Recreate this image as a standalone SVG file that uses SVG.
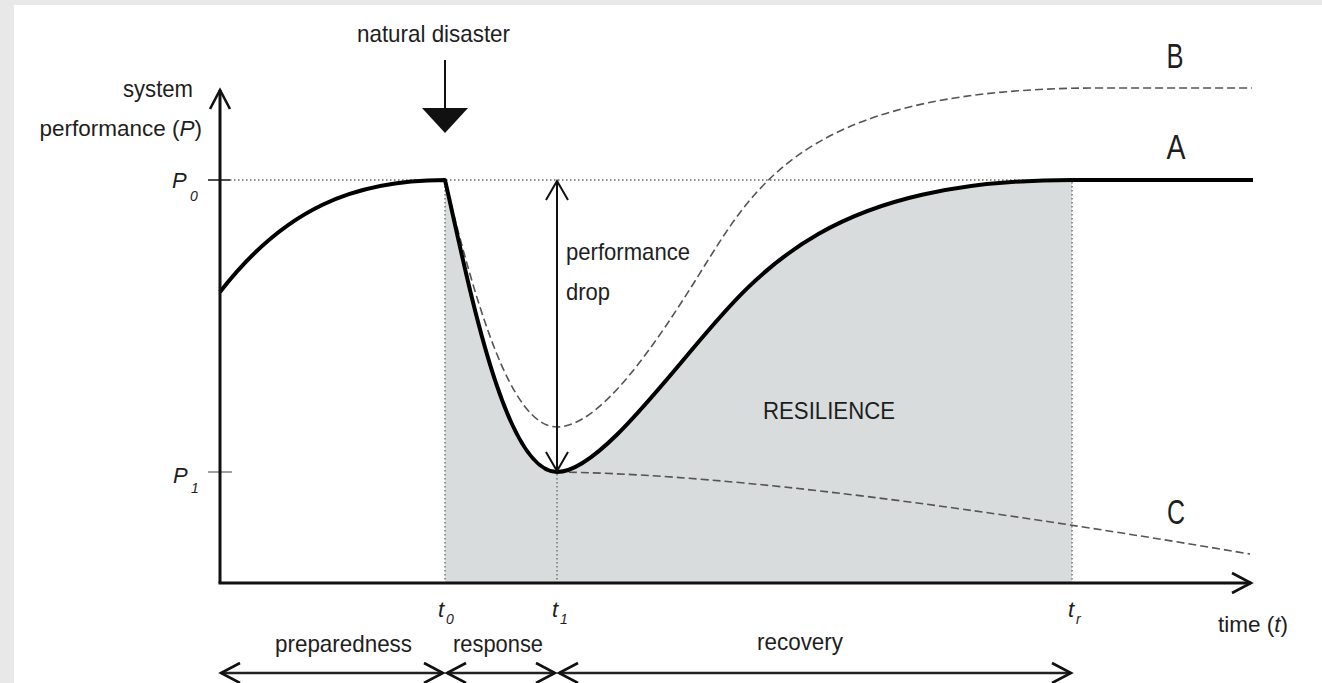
<svg xmlns="http://www.w3.org/2000/svg" width="1322" height="683" viewBox="0 0 1322 683">
<style>
  text { font-family: "Liberation Sans", Arial, sans-serif; fill: #1e1e1e; }
  .lbl { font-size: 24px; }
  .lbl2 { font-size: 22.5px; }
  .it { font-style: italic; }
  .sym { font-size: 22px; font-style: italic; }
  .sub { font-size: 14px; font-style: italic; }
  .big { font-size: 35px; }
  .axis { stroke: #111; stroke-width: 3; fill: none; }
  .dot { stroke: #666; stroke-width: 1.3; stroke-dasharray: 1.5 2.5; fill: none; }
  .curveA { stroke: #000; stroke-width: 4; fill: none; stroke-linejoin: round; }
  .dash { stroke: #555; stroke-width: 1.6; stroke-dasharray: 8 4; fill: none; }
  .span { stroke: #222; stroke-width: 2.5; fill: none; }
  .drop { stroke: #111; stroke-width: 2; fill: none; }
</style>
<defs>
  <marker id="chev" viewBox="-22 -13 26 26" refX="0" refY="0" markerWidth="26" markerHeight="26" markerUnits="userSpaceOnUse" orient="auto-start-reverse">
    <path d="M-19,-10 L0,0 L-19,10" fill="none" stroke="#111" stroke-width="2.6" stroke-linejoin="miter"/>
  </marker>
  <marker id="chevS" viewBox="-22 -13 26 26" refX="0" refY="0" markerWidth="26" markerHeight="26" markerUnits="userSpaceOnUse" orient="auto-start-reverse">
    <path d="M-19,-11 L0,0 L-19,11" fill="none" stroke="#111" stroke-width="2" stroke-linejoin="miter"/>
  </marker>
</defs>

<rect x="0" y="0" width="1322" height="683" fill="#e8e8e8"/>
<rect x="14" y="5" width="1308" height="678" fill="#ffffff"/>

<g id="resilience-area">
  <path d="M445,583 L445,180 C470,290 505,472 557,472 C590,472 640,412 690,352 C762,266 834,180 1072,180 L1072,583 Z" fill="#d9dcdc"/>
  <text class="lbl" x="763" y="419" textLength="132" lengthAdjust="spacingAndGlyphs">RESILIENCE</text>
</g>

<g id="guides">
  <line class="dot" x1="230" y1="180" x2="1072" y2="180"/>
  <line class="dot" x1="445" y1="182" x2="445" y2="583"/>
  <line class="dot" x1="557" y1="474" x2="557" y2="583"/>
  <line class="dot" x1="1072" y1="182" x2="1072" y2="583"/>
  <line x1="208" y1="180" x2="230" y2="180" stroke="#222" stroke-width="1.6"/>
  <line x1="208" y1="472" x2="232" y2="472" stroke="#888" stroke-width="1.6"/>
</g>

<g id="curve-B">
  <path class="dash" d="M445,180 C475,300 510,427 557,427 C600,427 655,346 705,265 C760,177 815,88 1100,88 L1252,88"/>
  <text class="big" x="1175" y="68" text-anchor="middle" textLength="17" lengthAdjust="spacingAndGlyphs">B</text>
</g>

<g id="curve-C">
  <path class="dash" d="M557,472 C700,474 900,495 1250,554"/>
  <text class="big" x="1176" y="524" text-anchor="middle" textLength="18" lengthAdjust="spacingAndGlyphs">C</text>
</g>

<g id="curve-A">
  <path class="curveA" d="M220,292 C285,208 355,180 445,180 C470,290 505,472 557,472 C590,472 640,412 690,352 C762,266 834,180 1072,180 L1253,180"/>
  <text class="big" x="1176" y="159" text-anchor="middle" textLength="19" lengthAdjust="spacingAndGlyphs">A</text>
</g>

<g id="axes">
  <path class="axis" d="M220,583 L220,90" marker-end="url(#chev)"/>
  <path class="axis" d="M218.5,583 L1251,583" marker-end="url(#chev)"/>
  <text class="lbl" x="123" y="97" textLength="70" lengthAdjust="spacingAndGlyphs">system</text>
  <text class="lbl2" x="202" y="136" text-anchor="end">performance (<tspan class="it">P</tspan>)</text>
  <text class="lbl2" x="1218" y="632">time (<tspan class="it">t</tspan>)</text>
</g>

<g id="level-labels">
  <text class="sym" x="172" y="188">P</text><text class="sub" x="190" y="201">0</text>
  <text class="sym" x="173" y="483">P</text><text class="sub" x="191" y="493">1</text>
</g>

<g id="time-labels">
  <text class="sym" x="438" y="617">t</text><text class="sub" x="446" y="624">0</text>
  <text class="sym" x="552" y="617">t</text><text class="sub" x="560" y="624">1</text>
  <text class="sym" x="1068" y="617">t</text><text class="sub" x="1076" y="624">r</text>
</g>

<g id="natural-disaster">
  <text class="lbl" x="357" y="42" textLength="153" lengthAdjust="spacingAndGlyphs">natural disaster</text>
  <line x1="445" y1="60" x2="445" y2="109" stroke="#111" stroke-width="2"/>
  <polygon points="422,108 468,108 445,133" fill="#111"/>
</g>

<g id="performance-drop">
  <path class="drop" d="M557,181 L557,471" marker-start="url(#chevS)" marker-end="url(#chevS)"/>
  <text class="lbl" x="566" y="260" textLength="124" lengthAdjust="spacingAndGlyphs">performance</text>
  <text class="lbl" x="566" y="300" textLength="44" lengthAdjust="spacingAndGlyphs">drop</text>
</g>

<g id="phases">
  <path class="span" d="M221,673 L443,673" marker-start="url(#chev)" marker-end="url(#chev)"/>
  <path class="span" d="M447,673 L555,673" marker-start="url(#chev)" marker-end="url(#chev)"/>
  <path class="span" d="M559,673 L1071,673" marker-start="url(#chev)" marker-end="url(#chev)"/>
  <text class="lbl" x="275" y="652" textLength="137" lengthAdjust="spacingAndGlyphs">preparedness</text>
  <text class="lbl" x="453" y="652" textLength="90" lengthAdjust="spacingAndGlyphs">response</text>
  <text class="lbl" x="757" y="650" textLength="86" lengthAdjust="spacingAndGlyphs">recovery</text>
</g>
</svg>
